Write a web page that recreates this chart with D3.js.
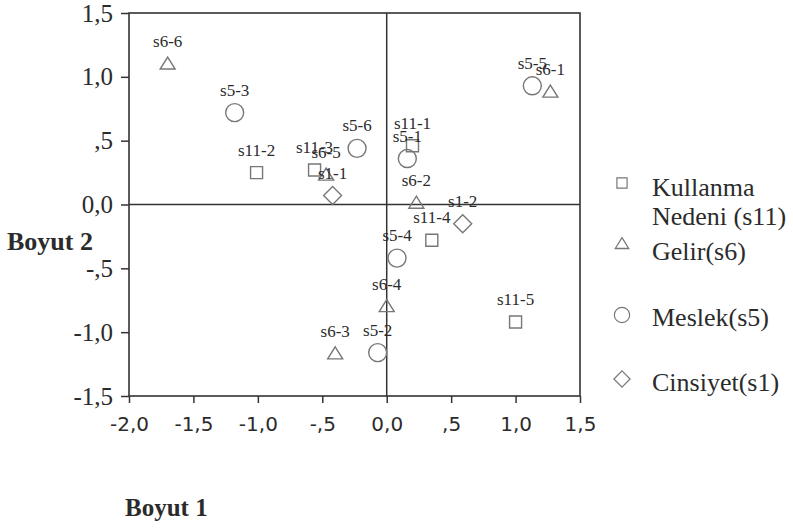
<!DOCTYPE html>
<html>
<head>
<meta charset="utf-8" />
<title>Boyut 1 x Boyut 2</title>
<style>
html, body {
  margin: 0;
  background-color: #ffffff;
}
svg text {
  fill: #2b2b2b;
}
</style>
</head>
<body>
<script src="https://d3js.org/d3.v7.min.js"></script>
<script>

// ---------------------------------------------------------
// Data
const kullanma = [ // s11
  ["s11-1", 0.20, 0.46],
  ["s11-2", -1.01, 0.25],
  ["s11-3", -0.56, 0.27],
  ["s11-4", 0.35, -0.28],
  ["s11-5", 1.00, -0.92]
]
const gelir = [ // s6
  ["s6-1", 1.27, 0.88],
  ["s6-2", 0.23, 0.01],
  ["s6-3", -0.40, -1.17],
  ["s6-4", 0.00, -0.80],
  ["s6-5", -0.47, 0.23],
  ["s6-6", -1.70, 1.10]
]
const meslek = [ // s5
  ["s5-1", 0.16, 0.36],
  ["s5-2", -0.07, -1.16],
  ["s5-3", -1.18, 0.72],
  ["s5-4", 0.08, -0.42],
  ["s5-5", 1.13, 0.93],
  ["s5-6", -0.23, 0.44]
]
const cinsiyet = [ // s1
  ["s1-1", -0.42, 0.07],
  ["s1-2", 0.59, -0.15]
]

const xTicks = [-2, -1.5, -1, -0.5, 0, 0.5, 1, 1.5]
const xTickLabels = ["-2,0", "-1,5", "-1,0", "-,5", "0,0", ",5", "1,0", "1,5"]
const yTicks = [1.5, 1, 0.5, 0, -0.5, -1, -1.5]
const yTickLabels = ["1,5", "1,0", ",5", "0,0", "-,5", "-1,0", "-1,5"]

const legendNames = [["Kullanma", "Nedeni (s11)"], ["Gelir(s6)"], ["Meslek(s5)"], ["Cinsiyet(s1)"]]

// ---------------------------------------------------------
const W = 793, H = 529
const pLeft = 129, pRight = 580, pTop = 13, pBottom = 396
const lineColor = "#333"
const markColor = "#777"
const serif = "'Liberation Serif', 'Times New Roman', serif"

const svg = d3.select("body").append("svg")
  .attr("width", W)
  .attr("height", H)

const x = d3.scaleLinear().domain([-2, 1.5]).range([pLeft, pRight])
const y = d3.scaleLinear().domain([-1.5, 1.5]).range([pBottom, pTop])

// marker shapes, drawn around (0,0)
const shapes = {
  square: "M-6,-6H6V6H-6Z",
  triangle: "M0,-7L7.5,5L-7.5,5Z",
  circle: d3.symbol().type(d3.symbolCircle).size(Math.PI * 9 * 9)(),
  diamond: "M0,-9L9,0L0,9L-9,0Z"
}
const series = [
  { data: kullanma, shape: "square" },
  { data: gelir, shape: "triangle" },
  { data: meslek, shape: "circle" },
  { data: cinsiyet, shape: "diamond" }
]

// axes
const xAxis = d3.axisBottom(x)
  .tickValues(xTicks)
  .tickFormat((d, i) => xTickLabels[i])
  .tickSize(7)
  .tickPadding(14)
const yAxis = d3.axisLeft(y)
  .tickValues(yTicks)
  .tickFormat((d, i) => yTickLabels[i])
  .tickSize(8)
  .tickPadding(8)

const gx = svg.append("g")
  .attr("transform", `translate(0,${pBottom})`)
  .call(xAxis)
gx.selectAll("text")
  .style("font-family", "'DejaVu Sans', sans-serif")
  .style("font-size", "20px")
  .attr("fill", "#2b2b2b")

const gy = svg.append("g")
  .attr("transform", `translate(${pLeft},0)`)
  .call(yAxis)
gy.selectAll("text")
  .style("font-family", serif)
  .style("font-size", "25px")
  .attr("fill", "#2b2b2b")

svg.selectAll(".domain").remove()
svg.selectAll(".tick line").attr("stroke", lineColor).attr("stroke-width", 1.5)

// frame and zero lines
svg.append("rect")
  .attr("x", pLeft).attr("y", pTop)
  .attr("width", pRight - pLeft).attr("height", pBottom - pTop)
  .attr("fill", "none")
  .attr("stroke", lineColor)
  .attr("stroke-width", 1.6)
svg.append("line")
  .attr("x1", x(0)).attr("x2", x(0))
  .attr("y1", pTop).attr("y2", pBottom)
  .attr("stroke", lineColor).attr("stroke-width", 1.5)
svg.append("line")
  .attr("x1", pLeft).attr("x2", pRight)
  .attr("y1", y(0)).attr("y2", y(0))
  .attr("stroke", lineColor).attr("stroke-width", 1.5)

// points and labels
series.forEach(s => {
  const g = svg.append("g")
  g.selectAll("path")
    .data(s.data)
    .enter().append("path")
    .attr("d", shapes[s.shape])
    .attr("transform", d => `translate(${x(d[1])},${y(d[2])})`)
    .attr("fill", "none")
    .attr("stroke", markColor)
    .attr("stroke-width", 1.4)
  g.selectAll("text")
    .data(s.data)
    .enter().append("text")
    .attr("x", d => x(d[1]))
    .attr("y", d => y(d[2]) - 17)
    .attr("text-anchor", "middle")
    .style("font-family", serif)
    .style("font-size", "17px")
    .text(d => d[0])
})

// legend
const legendMarkY = [183, 244, 315, 379]
const legendTextY = [196, 260, 326, 391]
const legend = svg.append("g")
series.forEach((s, i) => {
  const sc = s.shape === "triangle" || s.shape === "diamond" ? 0.9 : 0.85
  legend.append("path")
    .attr("d", shapes[s.shape])
    .attr("transform", `translate(622,${legendMarkY[i]}) scale(${sc})`)
    .attr("fill", "none")
    .attr("stroke", markColor)
    .attr("stroke-width", 1.4)
  legendNames[i].forEach((t, j) => {
    legend.append("text")
      .attr("x", 652)
      .attr("y", legendTextY[i] + j * 29)
      .style("font-family", serif)
      .style("font-size", "26px")
      .text(t)
  })
})

// axis titles
svg.append("text")
  .attr("x", 7).attr("y", 250)
  .style("font-family", serif)
  .style("font-size", "26px")
  .style("font-weight", "bold")
  .text("Boyut 2")
svg.append("text")
  .attr("x", 125).attr("y", 516)
  .style("font-family", serif)
  .style("font-size", "25px")
  .style("font-weight", "bold")
  .text("Boyut 1")

</script>
</body>
</html>
